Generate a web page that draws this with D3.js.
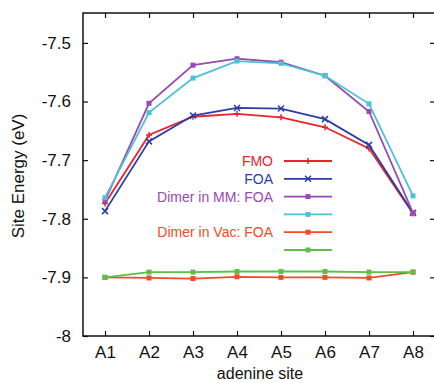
<!DOCTYPE html>
<html>
<head>
<meta charset="utf-8">
<script src="https://cdn.jsdelivr.net/npm/d3@7"></script>
<style>
  html, body { margin: 0; padding: 0; background: #fff; }
  svg { display: block; font-family: "Liberation Sans", Arial, sans-serif; }
</style>
</head>
<body>
<svg id="chart" width="434" height="383"></svg>
<script>
// Adenine sites along the x axis
const sites = ["A1", "A2", "A3", "A4", "A5", "A6", "A7", "A8"];
const yTicks = [-8, -7.9, -7.8, -7.7, -7.6, -7.5];
const yTickLabels = ["-8", "-7.9", "-7.8", "-7.7", "-7.6", "-7.5"];

// Site energies (eV) per method
const fmo       = [-7.774, -7.657, -7.626, -7.621, -7.627, -7.644, -7.680, -7.791];
const foa       = [-7.787, -7.668, -7.624, -7.611, -7.612, -7.630, -7.674, -7.790];
const mmFoa     = [-7.769, -7.603, -7.538, -7.527, -7.533, -7.556, -7.617, -7.790];
const mmOther   = [-7.764, -7.619, -7.560, -7.531, -7.535, -7.556, -7.604, -7.761];
const vacFoa    = [-7.900, -7.901, -7.902, -7.899, -7.900, -7.900, -7.901, -7.891];
const vacOther  = [-7.900, -7.891, -7.891, -7.890, -7.890, -7.890, -7.891, -7.891];

const series = [
  { label: "FMO",               color: "#e8242c", marker: "plus",   values: fmo },
  { label: "FOA",               color: "#2a3ea6", marker: "cross",  values: foa },
  { label: "Dimer in MM: FOA",  color: "#9a48b3", marker: "square", values: mmFoa },
  { label: "",                  color: "#4cc2d6", marker: "square", values: mmOther },
  { label: "Dimer in Vac: FOA", color: "#f04c2a", marker: "square", values: vacFoa },
  { label: "",                  color: "#5cbf46", marker: "square", values: vacOther }
];

const svg = d3.select("#chart");
const mLeft = 83, mRight = 435, mTop = 13, mBottom = 336;

const x = d3.scaleLinear().domain([0.5, 8.5]).range([mLeft, mRight]);
const y = d3.scaleLinear().domain([-8, -7.449]).range([mBottom, mTop]);

// Frame
svg.append("rect")
  .attr("x", mLeft).attr("y", mTop)
  .attr("width", mRight - mLeft).attr("height", mBottom - mTop)
  .attr("fill", "none").attr("stroke", "#111").attr("stroke-width", 1.5);

const fmt = d => yTickLabels[yTicks.indexOf(d)];
const tickLen = 5;

// Axes with inward ticks
const yAxisL = d3.axisLeft(y).tickValues(yTicks).tickFormat(fmt).tickSizeInner(-tickLen).tickSizeOuter(0).tickPadding(12);
const yAxisR = d3.axisRight(y).tickValues(yTicks).tickFormat("").tickSizeInner(-tickLen).tickSizeOuter(0);
const xAxisB = d3.axisBottom(x).tickValues(d3.range(1, 9)).tickFormat(i => sites[i - 1]).tickSizeInner(-tickLen).tickSizeOuter(0).tickPadding(10);
const xAxisT = d3.axisTop(x).tickValues(d3.range(1, 9)).tickFormat("").tickSizeInner(-tickLen).tickSizeOuter(0);

function style(g) {
  g.select(".domain").remove();
  g.selectAll(".tick line").attr("stroke", "#111").attr("stroke-width", 1.2);
  g.selectAll(".tick text").attr("fill", "#111").style("font-size", "17px")
    .style("font-family", "'Liberation Sans', Arial, sans-serif");
}
svg.append("g").attr("transform", `translate(${mLeft},0)`).call(yAxisL).call(style);
svg.append("g").attr("transform", `translate(${mRight},0)`).call(yAxisR).call(style);
svg.append("g").attr("transform", `translate(0,${mBottom})`).call(xAxisB).call(style);
svg.append("g").attr("transform", `translate(0,${mTop})`).call(xAxisT).call(style);

// Axis titles
svg.append("text")
  .attr("transform", `translate(24,176) rotate(-90)`)
  .attr("text-anchor", "middle")
  .style("font-size", "17px").attr("fill", "#111")
  .text("Site Energy (eV)");
svg.append("text")
  .attr("x", 260).attr("y", 379)
  .attr("text-anchor", "middle")
  .style("font-size", "16px").attr("fill", "#111")
  .text("adenine site");

function drawMarker(g, cx, cy, type, color) {
  if (type === "plus") {
    g.append("path").attr("d", `M${cx - 3},${cy}H${cx + 3}M${cx},${cy - 3}V${cy + 3}`)
      .attr("stroke", color).attr("stroke-width", 1.5);
  } else if (type === "cross") {
    g.append("path").attr("d", `M${cx - 3},${cy - 3}L${cx + 3},${cy + 3}M${cx - 3},${cy + 3}L${cx + 3},${cy - 3}`)
      .attr("stroke", color).attr("stroke-width", 1.5);
  } else {
    g.append("rect").attr("x", cx - 2.5).attr("y", cy - 2.5).attr("width", 5).attr("height", 5)
      .attr("fill", color);
  }
}

const line = d3.line().x((d, i) => x(i + 1)).y(d => y(d));
const plot = svg.append("g");
series.forEach(s => {
  plot.append("path").datum(s.values)
    .attr("d", line).attr("fill", "none")
    .attr("stroke", s.color).attr("stroke-width", 1.8);
  s.values.forEach((v, i) => drawMarker(plot, x(i + 1), y(v), s.marker, s.color));
});

// Legend
const legend = svg.append("g");
series.forEach((s, i) => {
  const ly = 161 + i * 17.8;
  legend.append("text")
    .attr("x", 273).attr("y", ly).attr("dy", "0.35em")
    .attr("text-anchor", "end")
    .style("font-size", "14px").attr("fill", s.color)
    .text(s.label);
  legend.append("line")
    .attr("x1", 284).attr("x2", 332).attr("y1", ly).attr("y2", ly)
    .attr("stroke", s.color).attr("stroke-width", 1.8);
  drawMarker(legend, 308, ly, s.marker, s.color);
});
</script>
</body>
</html>
